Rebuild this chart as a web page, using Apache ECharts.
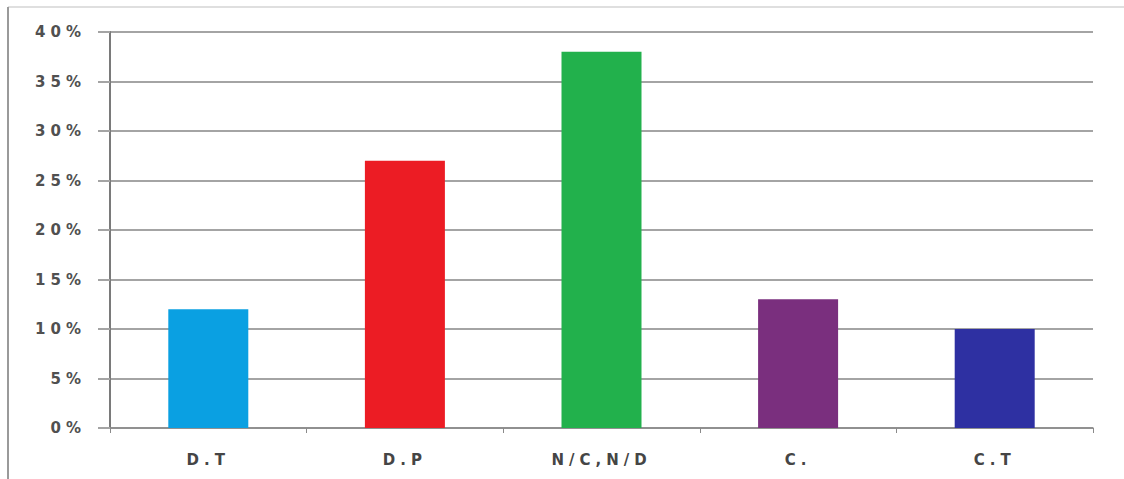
<!DOCTYPE html>
<html>
<head>
<meta charset="utf-8">
<script src="https://cdn.jsdelivr.net/npm/echarts@6/dist/echarts.min.js"></script>
<style>
  html, body { margin: 0; padding: 0; background: #fff; }
  #chart { width: 1124px; height: 479px; }
  /* spaced lettering for the axis labels */
  #chart text { letter-spacing: 5px; }
</style>
</head>
<body>
<div id="chart"></div>
<script>
// Share of responses per category (percent)
const categories = ['D.T', 'D.P', 'N/C,N/D', 'C.', 'C.T'];
const values = [12, 27, 38, 13, 10];
const barColors = ['#0aa0e2', '#ec1c24', '#22b14c', '#7a2f7e', '#2e30a2'];
const yTicks = { min: 0, max: 40, interval: 5 };

const chart = echarts.init(document.getElementById('chart'), null, { renderer: 'svg' });

chart.setOption({
  animation: false,
  backgroundColor: '#ffffff',
  grid: { left: 110, right: 31, top: 32, bottom: 51, containLabel: false },
  graphic: [
    { type: 'line', shape: { x1: 8, y1: 7, x2: 1124, y2: 7 }, style: { stroke: '#d4d4d4', lineWidth: 1.5 } },
    { type: 'line', shape: { x1: 8, y1: 7, x2: 8, y2: 479 }, style: { stroke: '#9a9a9a', lineWidth: 2 } }
  ],
  xAxis: {
    type: 'category',
    data: categories,
    axisLine: { show: true, lineStyle: { color: '#8a8a8a', width: 1.5 } },
    axisTick: { show: true, length: 5, lineStyle: { color: '#8a8a8a' } },
    axisLabel: {
      margin: 24,
      color: '#454545',
      fontFamily: 'DejaVu Sans',
      fontWeight: 'bold',
      fontSize: 15
    }
  },
  yAxis: {
    type: 'value',
    min: yTicks.min,
    max: yTicks.max,
    interval: yTicks.interval,
    axisLine: { show: true, lineStyle: { color: '#7a7a7a', width: 2 } },
    axisTick: { show: true, length: 12, lineStyle: { color: '#a4a4a4', width: 2 } },
    splitLine: { show: true, lineStyle: { color: '#a4a4a4', width: 2 } },
    axisLabel: {
      margin: 24,
      color: '#505050',
      fontFamily: 'DejaVu Sans',
      fontWeight: 'bold',
      fontSize: 15,
      formatter: v => v + '%'
    }
  },
  series: [{
    type: 'bar',
    barWidth: 80,
    data: values.map((v, i) => ({ value: v, itemStyle: { color: barColors[i] } }))
  }]
});
</script>
</body>
</html>
